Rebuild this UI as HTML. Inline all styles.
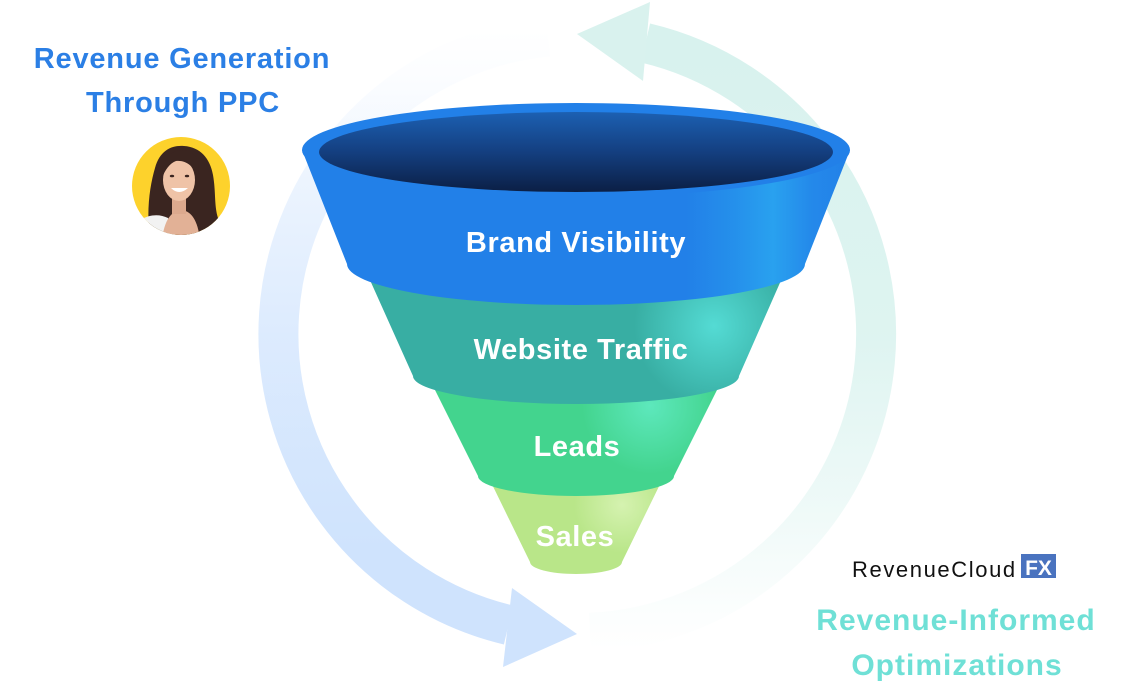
<!DOCTYPE html>
<html>
<head>
<meta charset="utf-8">
<style>
  html,body{margin:0;padding:0;background:#ffffff;}
  body{width:1126px;height:686px;overflow:hidden;position:relative;}
  svg{position:absolute;left:0;top:0;}
  text{font-family:"Liberation Sans", Arial, sans-serif;}
</style>
</head>
<body>
<svg width="1126" height="686" viewBox="0 0 1126 686" xmlns="http://www.w3.org/2000/svg">
  <defs>
    <linearGradient id="blueArc" gradientUnits="userSpaceOnUse" x1="0" y1="30" x2="0" y2="640">
      <stop offset="0" stop-color="#cfe3fd" stop-opacity="0"/>
      <stop offset="0.08" stop-color="#cfe3fd" stop-opacity="0.08"/>
      <stop offset="0.25" stop-color="#cfe3fd" stop-opacity="0.4"/>
      <stop offset="0.5" stop-color="#cfe3fd" stop-opacity="0.72"/>
      <stop offset="0.85" stop-color="#cfe3fd" stop-opacity="1"/>
      <stop offset="1" stop-color="#cfe3fd" stop-opacity="1"/>
    </linearGradient>
    <linearGradient id="tealArc" gradientUnits="userSpaceOnUse" x1="0" y1="40" x2="0" y2="650">
      <stop offset="0" stop-color="#d8f2ee" stop-opacity="1"/>
      <stop offset="0.48" stop-color="#d8f2ee" stop-opacity="0.85"/>
      <stop offset="0.75" stop-color="#d8f2ee" stop-opacity="0.45"/>
      <stop offset="0.92" stop-color="#d8f2ee" stop-opacity="0.12"/>
      <stop offset="1" stop-color="#d8f2ee" stop-opacity="0"/>
    </linearGradient>
    <linearGradient id="blueBand" gradientUnits="userSpaceOnUse" x1="302" y1="0" x2="850" y2="0">
      <stop offset="0" stop-color="#2280e8"/>
      <stop offset="0.70" stop-color="#2280e8"/>
      <stop offset="0.79" stop-color="#2590eb"/>
      <stop offset="0.86" stop-color="#29a1ef"/>
      <stop offset="0.93" stop-color="#2489ea"/>
      <stop offset="1" stop-color="#2280e8"/>
    </linearGradient>
    <linearGradient id="inner" x1="0" y1="0" x2="0" y2="1">
      <stop offset="0" stop-color="#1c60b2"/>
      <stop offset="0.5" stop-color="#143f80"/>
      <stop offset="1" stop-color="#0b1f45"/>
    </linearGradient>
    <radialGradient id="tealBand" gradientUnits="userSpaceOnUse" cx="714" cy="326" r="80">
      <stop offset="0" stop-color="#54dbd4"/>
      <stop offset="1" stop-color="#38aea3"/>
    </radialGradient>
    <radialGradient id="greenBand" gradientUnits="userSpaceOnUse" cx="650" cy="406" r="68">
      <stop offset="0" stop-color="#5de8bc"/>
      <stop offset="1" stop-color="#43d48e"/>
    </radialGradient>
    <radialGradient id="salesBand" gradientUnits="userSpaceOnUse" cx="622" cy="505" r="48">
      <stop offset="0" stop-color="#d5f2b0"/>
      <stop offset="1" stop-color="#b9e689"/>
    </radialGradient>
    <clipPath id="avClip"><circle cx="181" cy="186" r="49"/></clipPath>
  </defs>

  <!-- Cycle arrows -->
  <path d="M548,36.5 A299,299 0 0 0 508.5,625" fill="none" stroke="url(#blueArc)" stroke-width="40"/>
  <polygon points="512,588 503,667 577,634" fill="#cfe3fd"/>

  <path d="M590,632.8 A299,299 0 0 0 645.5,43" fill="none" stroke="url(#tealArc)" stroke-width="40"/>
  <polygon points="650,2 643,81 577,34" fill="#d9f2ee"/>

  <!-- Funnel: bottom to top -->
  <path d="M485,470 L530,562 A46,12 0 0 0 622,562 L667,470 Z" fill="url(#salesBand)"/>
  <path d="M425,370 L478,476 A98,20 0 0 0 674,476 L727,370 Z" fill="url(#greenBand)"/>
  <path d="M361,260 L413,376 A163,28 0 0 0 739,376 L790,260 Z" fill="url(#tealBand)"/>
  <path d="M302,150 L347,264 A229,41 0 0 0 805,264 L850,150 Z" fill="url(#blueBand)"/>
  <ellipse cx="576" cy="150" rx="274" ry="47" fill="#2280e8"/>
  <ellipse cx="576" cy="152" rx="257" ry="40" fill="url(#inner)"/>

  <!-- Funnel labels -->
  <g fill="#ffffff" font-weight="700" font-size="29" text-anchor="middle" letter-spacing="0.6">
    <text x="576" y="252">Brand Visibility</text>
    <text x="581" y="359">Website Traffic</text>
    <text x="577" y="456">Leads</text>
    <text x="575" y="546">Sales</text>
  </g>

  <!-- Left heading -->
  <g fill="#2b7fe5" font-weight="700" font-size="29" text-anchor="middle" letter-spacing="0.8">
    <text x="182" y="68">Revenue Generation</text>
    <text x="183" y="112">Through PPC</text>
  </g>

  <!-- Avatar -->
  <circle cx="181" cy="186" r="49" fill="#fdd22c"/>
  <g clip-path="url(#avClip)">
    <path d="M150,240 C146,210 150,185 155,168 C160,150 172,145 184,146 C200,147 210,158 213,175 C216,192 214,205 218,218 C222,230 224,238 222,240 Z" fill="#3a2520"/>
    <path d="M132,240 L140,220 C150,214 160,214 168,218 L176,240 Z" fill="#f2f2f2"/>
    <path d="M162,240 C164,222 170,212 180,210 C192,210 198,222 200,240 Z" fill="#e2b196"/>
    <rect x="172" y="194" width="14" height="20" fill="#dca98e"/>
    <ellipse cx="179" cy="180" rx="16" ry="21" fill="#efc3a7"/>
    <path d="M162,178 C161,160 170,150 184,150 C196,151 201,162 198,178 C194,166 186,160 176,161 C170,163 165,170 162,178 Z" fill="#3a2520"/>
    <ellipse cx="172" cy="176" rx="2.2" ry="1.3" fill="#3a2520"/>
    <ellipse cx="187" cy="176" rx="2.2" ry="1.3" fill="#3a2520"/>
    <path d="M171,188 Q179,196 188,188 Z" fill="#ffffff"/>
  </g>

  <!-- RevenueCloud FX logo -->
  <text x="852" y="577" fill="#111111" font-size="22" letter-spacing="1.6">RevenueCloud</text>
  <rect x="1021" y="554" width="35" height="24" fill="#4a73bf"/>
  <text x="1038.5" y="575" fill="#ffffff" font-size="21" font-weight="700" text-anchor="middle">FX</text>

  <!-- Right heading -->
  <g fill="#6fe0d6" font-weight="700" font-size="30" text-anchor="middle" letter-spacing="1">
    <text x="956" y="630">Revenue-Informed</text>
    <text x="957" y="675">Optimizations</text>
  </g>
</svg>
</body>
</html>
